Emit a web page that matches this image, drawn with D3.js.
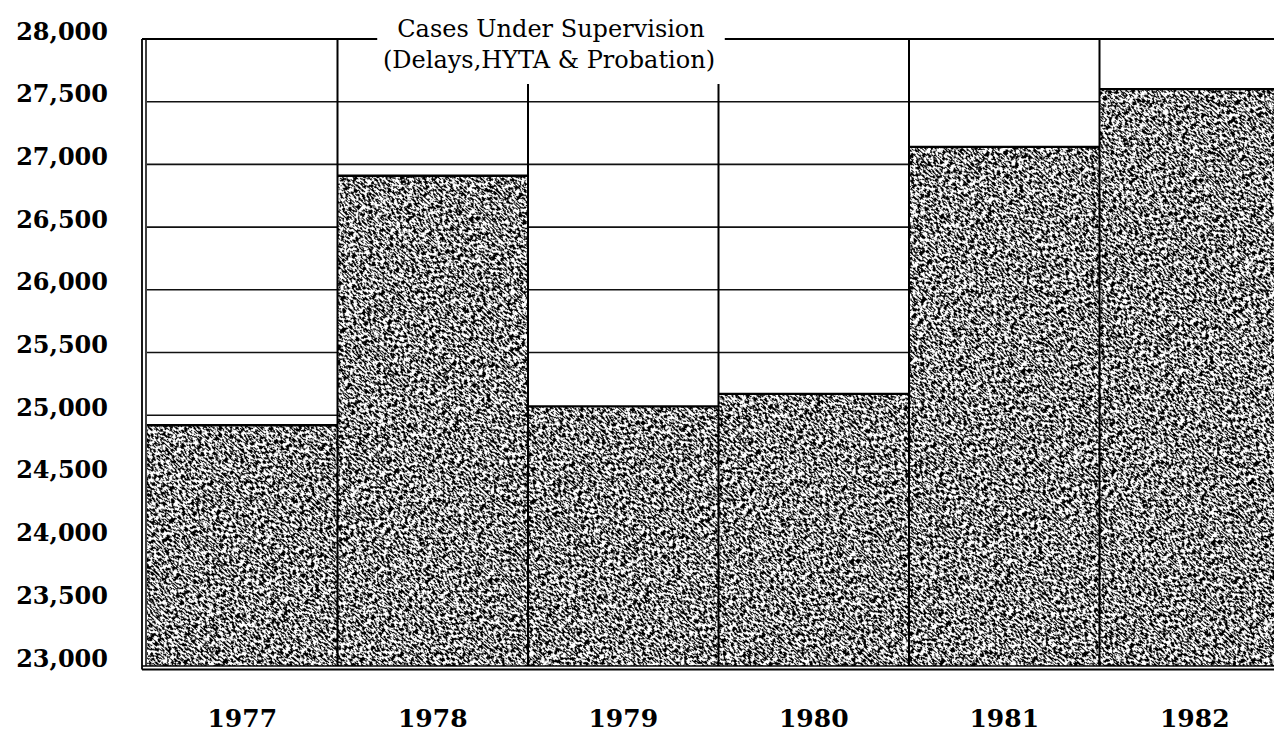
<!DOCTYPE html>
<html>
<head>
<meta charset="utf-8">
<script src="https://cdn.jsdelivr.net/npm/d3@7"></script>
<style>
  body { margin: 0; background: #fff; }
  svg { display: block; }
</style>
</head>
<body>
<div id="chart"></div>
<script>
// data
var years = ['1977', '1978', '1979', '1980', '1981', '1982'];
var cases = [24920, 26910, 25070, 25170, 27140, 27600];
var yTicks = [23000, 23500, 24000, 24500, 25000, 25500, 26000, 26500, 27000, 27500, 28000];
var gridValues = [25000, 25500, 26000, 26500, 27000, 27500];
var titleLines = ['Cases Under Supervision', '(Delays,HYTA & Probation)'];

var data = years.map(function(d, i) { return {year: d, value: cases[i]}; });

var outerWidth = 1274;
var outerHeight = 733;
var plotLeft = 147;
var frameLeft = 142;

var svg = d3.select('#chart').append('svg')
    .attr('width', outerWidth)
    .attr('height', outerHeight);

var x = d3.scaleBand().domain(years).range([plotLeft, 1290]).padding(0);
var y = d3.scaleLinear().domain([23000, 28000]).range([666, 39]);
var base = y(23000);
var frameTop = y(28000);

// speckled print texture for the bars
var defs = svg.append('defs');
var f = defs.append('filter').attr('id', 'grain')
    .attr('x', 0).attr('y', 0).attr('width', 1).attr('height', 1)
    .attr('color-interpolation-filters', 'sRGB');
f.append('feTurbulence')
    .attr('type', 'fractalNoise')
    .attr('baseFrequency', '0.24 0.6')
    .attr('numOctaves', 3)
    .attr('seed', 5)
    .attr('stitchTiles', 'stitch');
f.append('feColorMatrix')
    .attr('type', 'matrix')
    .attr('values', '0 0 0 0 0  0 0 0 0 0  0 0 0 0 0  -16 0 0 0 8.3');

var pat = defs.append('pattern').attr('id', 'stipple')
    .attr('patternUnits', 'userSpaceOnUse')
    .attr('width', 256).attr('height', 256)
    .attr('patternTransform', 'rotate(42)');
pat.append('rect').attr('width', 256).attr('height', 256).attr('fill', '#fff');
pat.append('rect').attr('width', 256).attr('height', 256).attr('fill', '#000')
    .attr('filter', 'url(#grain)');

// title
var title = svg.append('g')
    .style('font-family', '"DejaVu Serif", serif')
    .style('font-size', '24px')
    .attr('fill', '#000');
var t1 = title.append('text').attr('x', 551).attr('y', 37)
    .attr('text-anchor', 'middle').text(titleLines[0]);
var t2 = title.append('text').attr('x', 549).attr('y', 68)
    .attr('text-anchor', 'middle').text(titleLines[1]);
var b1 = t1.node().getBBox();
var b2 = t2.node().getBBox();
var gapL = b1.x - 20, gapR = b1.x + b1.width + 20;
var titleBottom = b2.y + b2.height + 10;

// horizontal grid lines (covered by the bars)
svg.append('g').selectAll('line')
    .data(gridValues)
    .enter().append('line')
    .attr('x1', plotLeft).attr('x2', outerWidth)
    .attr('y1', function(d) { return y(d); })
    .attr('y2', function(d) { return y(d); })
    .attr('stroke', '#111').attr('stroke-width', 1.6);

// bars
svg.append('g').selectAll('rect')
    .data(data)
    .enter().append('rect')
    .attr('x', function(d) { return x(d.year); })
    .attr('y', function(d) { return y(d.value); })
    .attr('width', x.bandwidth())
    .attr('height', function(d) { return base - y(d.value); })
    .attr('fill', 'url(#stipple)');

svg.append('g').selectAll('line')
    .data(data)
    .enter().append('line')
    .attr('x1', function(d) { return x(d.year); })
    .attr('x2', function(d) { return x(d.year) + x.bandwidth(); })
    .attr('y1', function(d) { return y(d.value); })
    .attr('y2', function(d) { return y(d.value); })
    .attr('stroke', '#000').attr('stroke-width', 2.4);

// column dividers
svg.append('g').selectAll('line')
    .data(years.slice(1))
    .enter().append('line')
    .attr('x1', function(d) { return x(d); })
    .attr('x2', function(d) { return x(d); })
    .attr('y1', function(d) {
        var xx = x(d);
        return (xx > gapL && xx < gapR + 5) ? titleBottom : frameTop;
    })
    .attr('y2', base)
    .attr('stroke', '#000').attr('stroke-width', 2);

// frame: top broken by the title, double rule left and bottom
var frame = svg.append('g').attr('stroke', '#000').attr('fill', 'none');
frame.append('line').attr('x1', frameLeft).attr('x2', gapL)
    .attr('y1', frameTop).attr('y2', frameTop).attr('stroke-width', 2);
frame.append('line').attr('x1', gapR).attr('x2', outerWidth)
    .attr('y1', frameTop).attr('y2', frameTop).attr('stroke-width', 2);
frame.append('line').attr('x1', frameLeft).attr('x2', frameLeft)
    .attr('y1', frameTop).attr('y2', base + 3.5).attr('stroke-width', 1.8);
frame.append('line').attr('x1', frameLeft + 4).attr('x2', frameLeft + 4)
    .attr('y1', frameTop).attr('y2', base).attr('stroke-width', 1.5);
frame.append('line').attr('x1', frameLeft).attr('x2', outerWidth)
    .attr('y1', base).attr('y2', base).attr('stroke-width', 1.5);
frame.append('line').attr('x1', frameLeft).attr('x2', outerWidth)
    .attr('y1', base + 3.5).attr('y2', base + 3.5).attr('stroke-width', 1.8);

// y axis labels
var yAxis = svg.append('g')
    .attr('transform', 'translate(108,0)')
    .call(d3.axisLeft(y).tickValues(yTicks).tickFormat(d3.format(',')).tickSize(0).tickPadding(0));
yAxis.select('.domain').remove();
yAxis.selectAll('text')
    .attr('dy', '0')
    .attr('fill', '#000')
    .style('font', 'bold 24px "DejaVu Serif", serif');

// x axis labels
var xAxis = svg.append('g')
    .attr('transform', 'translate(0,727)')
    .call(d3.axisBottom(x).tickSize(0).tickPadding(0));
xAxis.select('.domain').remove();
xAxis.selectAll('text')
    .attr('y', 0)
    .attr('dy', '0')
    .attr('fill', '#000')
    .style('font', 'bold 25px "DejaVu Serif", serif');
</script>
</body>
</html>
